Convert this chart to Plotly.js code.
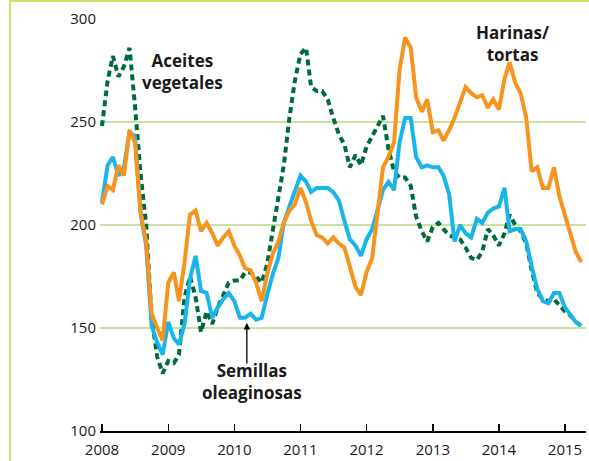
<!DOCTYPE html>
<html>
<head>
<meta charset="utf-8">
<script src="https://cdn.plot.ly/plotly-3.0.1.min.js"></script>
<style>
  html, body { margin: 0; padding: 0; background: #fff; }
  #wrap { position: absolute; left: 0; top: 0; width: 589px; height: 461px; }
  #frame { position: absolute; left: 9px; top: 0px; width: 580px; height: 461px;
           border-left: 2px solid #cfe06a; border-top: 2px solid #cfe06a; box-sizing: border-box; pointer-events: none; }
  #chart { position: absolute; left: 0; top: 0; width: 589px; height: 461px; }
</style>
</head>
<body>
<div id="wrap">
  <div id="chart"></div>
  <div id="frame"></div>
</div>
<script>
// Monthly series, January 2008 to April 2015
const startYear = 2008;
const nMonths = 88;

const aceitesVegetales = [
  248, 270, 282, 272, 277, 286, 258, 225, 200, 155, 136, 128,
  134, 133, 137, 165, 175, 165, 148, 158, 152, 160, 166, 172,
  173, 173, 177, 177, 175, 172, 181, 198, 213, 229, 252, 270,
  283, 286, 267, 265, 265, 261, 252, 244, 239, 228, 234, 229,
  238, 243, 248, 253, 237, 226, 223, 223, 219, 204, 197, 192,
  199, 201, 198, 195, 194, 193, 189, 184, 183, 187, 198, 195,
  190, 196, 205, 200, 197, 191, 178, 167, 164, 163, 164, 161,
  158, 156, 153, 151
];

const semillasOleaginosas = [
  211, 229, 233, 224, 228, 245, 243, 206, 190, 151, 143, 137,
  153, 145, 142, 152, 174, 185, 168, 167, 155, 160, 164, 167,
  163, 155, 155, 157, 154, 155, 166, 176, 184, 201, 209, 216,
  224, 221, 216, 218, 218, 218, 216, 212, 202, 193, 190, 185,
  193, 198, 207, 217, 221, 217, 240, 252, 252, 233, 228, 229,
  228, 228, 224, 215, 192, 200, 196, 194, 203, 201, 206, 208,
  209, 218, 197, 198, 198, 192, 180, 169, 163, 162, 167, 167,
  160, 156, 153, 151
];

const harinasTortas = [
  210, 219, 217, 229, 224, 246, 240, 206, 192, 157, 150, 144,
  172, 177, 163, 182, 205, 207, 197, 201, 196, 190, 194, 197,
  190, 185, 179, 178, 172, 163, 176, 186, 192, 201, 207, 210,
  218, 211, 202, 195, 194, 191, 194, 191, 189, 180, 170, 166,
  177, 184, 204, 228, 233, 240, 275, 291, 286, 262, 255, 261,
  245, 246, 241, 246, 252, 259, 267, 264, 262, 263, 257, 261,
  256, 271, 279, 269, 264, 252, 226, 228, 218, 218, 228, 214,
  205, 196, 187, 182
];

const yearTicks = [2008, 2009, 2010, 2011, 2012, 2013, 2014, 2015];
const yTicks = [100, 150, 200, 250, 300];

const labelAceites = 'Aceites<br>vegetales';
const labelHarinas = 'Harinas/<br>tortas';
const labelSemillas = 'Semillas<br>oleaginosas';

function pad(n) { return (n < 10 ? '0' : '') + n; }
const months = [];
for (let i = 0; i < nMonths; i++) {
  const y = startYear + Math.floor(i / 12);
  const m = (i % 12) + 1;
  months.push(y + '-' + pad(m) + '-01');
}

const traces = [
  { x: months, y: aceitesVegetales, type: 'scatter', mode: 'lines', name: 'Aceites vegetales',
    line: { color: '#006b3a', width: 4, dash: '6px,4px' } },
  { x: months, y: semillasOleaginosas, type: 'scatter', mode: 'lines', name: 'Semillas oleaginosas',
    line: { color: '#19b5ea', width: 4 } },
  { x: months, y: harinasTortas, type: 'scatter', mode: 'lines', name: 'Harinas/tortas',
    line: { color: '#f7941e', width: 4 } }
];

const txtFont = { family: 'Open Sans, Noto Sans, sans-serif', size: 17, color: '#1a1a1a', weight: 'bold' };

const layout = {
  width: 589, height: 461,
  margin: { l: 100, r: 3, t: 19, b: 30 },
  paper_bgcolor: '#ffffff', plot_bgcolor: '#ffffff',
  showlegend: false,
  hovermode: false,
  font: { family: 'Open Sans, Noto Sans, sans-serif', size: 15, color: '#1a1a1a' },
  xaxis: {
    type: 'date',
    range: ['2007-12-21', '2015-04-27'],
    tickvals: yearTicks.map(y => y + '-01-01'),
    ticktext: yearTicks.map(String),
    ticks: 'inside', ticklen: 7, tickwidth: 1.5, tickcolor: '#000',
    ticklabelstandoff: 4,
    showline: true, linecolor: '#000', linewidth: 1.5,
    showgrid: false, zeroline: false,
    tickfont: { size: 15, color: '#1a1a1a' }
  },
  yaxis: {
    range: [100, 300],
    tickvals: yTicks,
    ticktext: yTicks.map(String),
    showline: false, zeroline: false,
    showgrid: true, gridcolor: '#c8e2a2', gridwidth: 1.5,
    ticks: '',
    ticklabelstandoff: 3,
    tickfont: { size: 15, color: '#1a1a1a' }
  },
  annotations: [
    { x: '2009-03-22', y: 274.3, text: labelAceites, showarrow: false, font: txtFont, align: 'center' },
    { x: '2014-03-15', y: 288.3, text: labelHarinas, showarrow: false, font: txtFont, align: 'center' },
    { x: '2010-04-08', y: 123.8, text: labelSemillas, showarrow: false, font: txtFont, align: 'center' },
    { x: '2010-03-11', y: 152.4, text: '', showarrow: true, ax: 0, ay: 42,
      arrowhead: 2, arrowsize: 1, arrowwidth: 1.3, arrowcolor: '#000' }
  ]
};

Plotly.newPlot('chart', traces, layout, { displayModeBar: false, staticPlot: true });
</script>
</body>
</html>
